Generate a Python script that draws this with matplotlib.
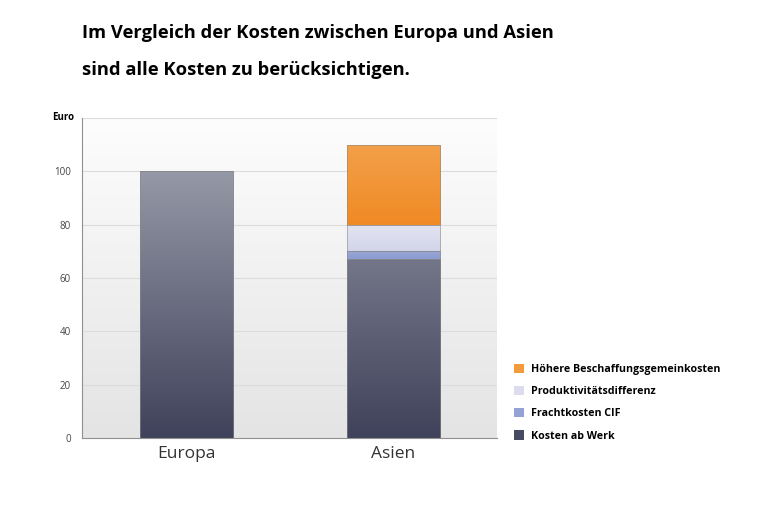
import numpy as np
import matplotlib.pyplot as plt
from matplotlib.colors import LinearSegmentedColormap
from matplotlib.patches import Patch

plt.rcParams['font.family'] = ['Open Sans', 'DejaVu Sans']

laender = ['Europa', 'Asien']
kosten_ab_werk = [100, 67]
frachtkosten = [0, 3]
produktivitaet = [0, 10]
beschaffung = [0, 30]

serien = [
    ('Kosten ab Werk', kosten_ab_werk, '#9598a6', '#3f425a', '#464a62'),
    ('Frachtkosten CIF', frachtkosten, '#9aa6d6', '#8c9bd2', '#95a2d6'),
    ('Produktivitätsdifferenz', produktivitaet, '#e4e4f0', '#d2d4ea', '#dcdcee'),
    ('Höhere Beschaffungsgemeinkosten', beschaffung, '#f2a04a', '#f08a24', '#f39a3c'),
]

fig = plt.figure(figsize=(7.62, 5.08), dpi=100)
ax = fig.add_axes([82/762, 1-438/508, 415/762, 320/508])
ax.set_xlim(-0.505, 1.5)
ax.set_ylim(0, 120)

# hintergrund verlauf
bg = LinearSegmentedColormap.from_list('bg', ['#e4e4e4', '#fdfdfd'])
ax.imshow(np.linspace(0, 1, 256).reshape(-1, 1), cmap=bg, aspect='auto',
          extent=(-0.505, 1.5, 0, 120), origin='lower', zorder=0)

for y in [20, 40, 60, 80, 100, 120]:
    ax.axhline(y, color='#dcdcdc', lw=0.8, zorder=1)

x = np.arange(len(laender))
breite = 0.45
gesamt = np.sum([s[1] for s in serien], axis=0)
unten = np.zeros(len(laender))
handles = []
for name, werte, c_oben, c_unten, c_leg in serien:
    werte = np.array(werte, dtype=float)
    bars = ax.bar(x, werte, breite, bottom=unten, color='none', edgecolor='#8a8a8a',
                  lw=0.4, zorder=3)
    cm = LinearSegmentedColormap.from_list(name, [c_unten, c_oben])
    for i, b in enumerate(bars):
        if b.get_height() <= 0:
            continue
        x0, y0 = b.get_x(), b.get_y()
        x1, y1 = x0 + b.get_width(), y0 + b.get_height()
        if name == 'Kosten ab Werk':
            # verlauf ueber die ganze saeule
            y1 = y0 + gesamt[i]
        im = ax.imshow(np.linspace(0, 1, 256).reshape(-1, 1), cmap=cm, aspect='auto',
                       extent=(x0, x1, y0, y1), origin='lower', zorder=2)
        im.set_clip_path(b)
    unten += werte
    handles.append(Patch(facecolor=c_leg, edgecolor='none', label=name))

ax.set_xlim(-0.505, 1.5)
ax.set_ylim(0, 120)
ax.set_xticks(x)
ax.set_xticklabels(laender, fontsize=12.5, color='#333333')
ax.set_yticks([0, 20, 40, 60, 80, 100])
ax.tick_params(axis='y', labelsize=7, colors='#444444', length=0, pad=8)
ax.tick_params(axis='x', length=0, pad=6)
for s in ['top', 'right']:
    ax.spines[s].set_visible(False)
ax.spines['left'].set_color('#909090')
ax.spines['bottom'].set_color('#909090')

fig.text(52/762, 1-118/508, 'Euro', fontsize=7, fontweight='bold', va='center')

fig.text(82/762, 1-33/508, 'Im Vergleich der Kosten zwischen Europa und Asien',
         fontsize=13.2, fontweight='bold', va='center')
fig.text(82/762, 1-70/508, 'sind alle Kosten zu berücksichtigen.',
         fontsize=13.2, fontweight='bold', va='center')

fig.legend(handles=handles[::-1], loc='upper left', bbox_to_anchor=(504/762, 1-354/508),
           frameon=False, handlelength=1.0, handleheight=1.0,
           labelspacing=1.0, handletextpad=0.6,
           prop={'weight': 'bold', 'size': 7.7})

fig.savefig('out.png', dpi=100)
